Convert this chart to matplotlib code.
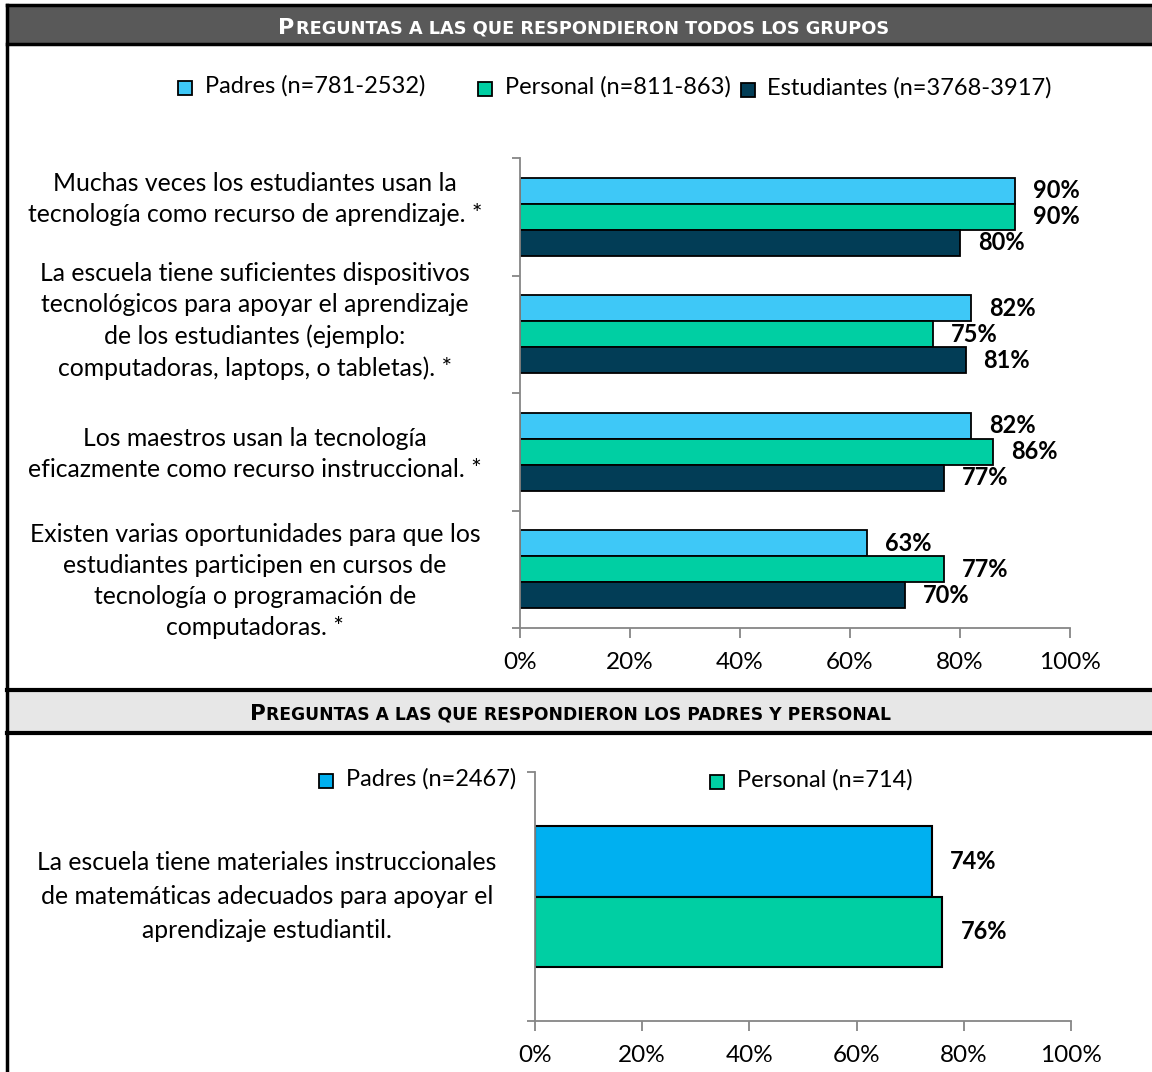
import matplotlib
matplotlib.use('Agg')
import matplotlib.pyplot as plt
from matplotlib.patches import Rectangle
import numpy as np

plt.rcParams['font.family'] = ['Lato', 'DejaVu Sans']

W, H = 1152, 1072

# ---- data ----
questions = [
    "Muchas veces los estudiantes usan la\ntecnología como recurso de aprendizaje. *",
    "La escuela tiene suficientes dispositivos\ntecnológicos para apoyar el aprendizaje\nde los estudiantes (ejemplo:\ncomputadoras, laptops, o tabletas). *",
    "Los maestros usan la tecnología\neficazmente como recurso instruccional. *",
    "Existen varias oportunidades para que los\nestudiantes participen en cursos de\ntecnología o programación de\ncomputadoras. *",
]
padres = [90, 82, 82, 63]
personal = [90, 75, 86, 77]
estudiantes = [80, 81, 77, 70]
legend_top = ["Padres (n=781-2532)", "Personal (n=811-863)", "Estudiantes (n=3768-3917)"]

question_b = "La escuela tiene materiales instruccionales\nde matemáticas adecuados para apoyar el\naprendizaje estudiantil."
padres_b = [74]
personal_b = [76]
legend_bottom = ["Padres (n=2467)", "Personal (n=714)"]

pct_ticks = [0, 20, 40, 60, 80, 100]
title_top = "Preguntas a las que respondieron todos los grupos"
title_bottom = "Preguntas a las que respondieron los padres y personal"

# layout only: vertical nudge (px) of each question label
label_dy = [-18, -13, 2, 12]

c_padres = '#3ec8f7'
c_padres_b = '#00b0f0'
c_personal = '#00cfa3'
c_estud = '#023d56'
c_axis = '#868686'

fig = plt.figure(figsize=(W / 100, H / 100), dpi=100)

# background axes in pixel coordinates
bg = fig.add_axes([0, 0, 1, 1])
bg.set_xlim(0, W)
bg.set_ylim(H, 0)
bg.axis('off')

# headers
bg.add_patch(Rectangle((7, 5), W - 7, 39, facecolor='#595959', edgecolor='none'))
bg.plot([7, W], [5, 5], color='black', lw=2.5)
bg.plot([7, W], [44, 44], color='black', lw=2.5)
bg.add_patch(Rectangle((7, 690), W - 7, 43, facecolor='#e7e7e7', edgecolor='none'))
bg.plot([7, W], [690, 690], color='black', lw=3)
bg.plot([7, W], [733, 733], color='black', lw=3)
bg.plot([7, 7], [5, H], color='black', lw=2.5)

renderer = fig.canvas.get_renderer()


def small_caps(cx, cy, text, color, big=16, small=12.8):
    first, rest = text[0].upper(), text[1:].upper()
    fam = ['Liberation Sans Narrow', 'DejaVu Sans']
    t1 = bg.text(0, cy, first, fontsize=big, fontweight='bold', color=color,
                 family=fam, va='baseline')
    t2 = bg.text(0, cy, rest, fontsize=small, fontweight='bold', color=color,
                 family=fam, va='baseline')
    w1 = t1.get_window_extent(renderer).width
    w2 = t2.get_window_extent(renderer).width
    x0 = cx - (w1 + w2) / 2
    t1.set_x(x0)
    t2.set_x(x0 + w1 + 1)


small_caps(583, 34, title_top, 'white')
small_caps(570, 720, title_bottom, 'black', big=15.5, small=12.3)


# legends (drawn by hand)
def legend_item(x, y, color, label, gap=27):
    bg.add_patch(Rectangle((x, y - 7), 14, 14, facecolor=color, edgecolor='black', lw=1.3))
    bg.text(x + gap, y - 2, label, fontsize=17, va='center', ha='left')


legend_item(178, 88, c_padres, legend_top[0])
legend_item(478, 89, c_personal, legend_top[1])
legend_item(741, 90, c_estud, legend_top[2], gap=26)
legend_item(319, 781, c_padres_b, legend_bottom[0])
legend_item(710, 782, c_personal, legend_bottom[1])


def style_axes(ax, ncat):
    ax.set_xlim(0, 100)
    ax.set_ylim(0, ncat)
    for s in ['top', 'right']:
        ax.spines[s].set_visible(False)
    for s in ['left', 'bottom']:
        ax.spines[s].set_color(c_axis)
        ax.spines[s].set_linewidth(1.3)
    ax.set_xticks(pct_ticks)
    ax.set_xticklabels([f"{t}%" for t in pct_ticks], fontsize=17.5)
    ax.tick_params(axis='x', length=7, color=c_axis, width=1.3, pad=10)
    ax.set_yticks(np.arange(ncat + 1))
    ax.set_yticklabels([])
    ax.tick_params(axis='y', length=6, color=c_axis, width=1.3)
    ax.patch.set_alpha(0)


def label_bar(ax, v, y):
    ax.annotate(f"{v}%", (v, y), xytext=(13, 0), textcoords='offset points',
                va='center', ha='left', fontsize=17, fontweight='bold')


# ---- top chart ----
ax1 = fig.add_axes([520 / W, 1 - 628 / H, 550 / W, 470 / H])
n = len(questions)
centers = n - 0.5 - np.arange(n)
bh = 0.222
ax1.barh(centers + bh, padres, height=bh, color=c_padres, edgecolor='black', lw=1.3)
ax1.barh(centers, personal, height=bh, color=c_personal, edgecolor='black', lw=1.3)
ax1.barh(centers - bh, estudiantes, height=bh, color=c_estud, edgecolor='black', lw=1.3)
style_axes(ax1, n)
unit_px = 470 / n
for i in range(n):
    label_bar(ax1, padres[i], centers[i] + bh)
    label_bar(ax1, personal[i], centers[i])
    label_bar(ax1, estudiantes[i], centers[i] - bh)
    ax1.text(-0.482, centers[i] - label_dy[i] / unit_px, questions[i],
             transform=ax1.get_yaxis_transform(),
             ha='center', va='center', multialignment='center', fontsize=17.8,
             linespacing=1.42)

# ---- bottom chart ----
ax2 = fig.add_axes([535 / W, 1 - 1021 / H, 536 / W, 249 / H])
bh2 = 0.285
ax2.barh([0.5 + bh2 / 2], padres_b, height=bh2, color=c_padres_b, edgecolor='black', lw=1.5)
ax2.barh([0.5 - bh2 / 2], personal_b, height=bh2, color=c_personal, edgecolor='black', lw=1.5)
style_axes(ax2, 1)
label_bar(ax2, padres_b[0], 0.5 + bh2 / 2)
label_bar(ax2, personal_b[0], 0.5 - bh2 / 2)
ax2.text(-0.5, 0.5, question_b, transform=ax2.get_yaxis_transform(),
         ha='center', va='center', multialignment='center', fontsize=17.8,
         linespacing=1.56)

fig.savefig('out.png', dpi=100)
